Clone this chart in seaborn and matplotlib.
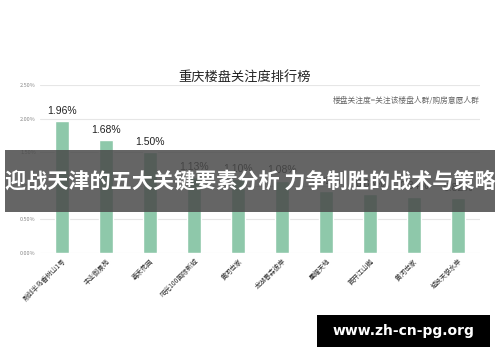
import numpy as np
import pandas as pd
import matplotlib.pyplot as plt
import matplotlib.patches as mpatches
import seaborn as sns

# 数据
loupan = ['融创半岛香树山1号', '丰业御景苑', '嘉禾花园', '阳光100国际新城', '黄河世家',
          '龙湖春森彼岸', '星耀天地', '首开江山樾', '黄河世家 ', '城投天悦水岸']
guanzhu = [1.96, 1.68, 1.50, 1.13, 1.10, 1.08, 0.92, 0.88, 0.84, 0.82]
yticks = [0.0, 0.5, 1.0, 1.5, 2.0, 2.5]

title = '重庆楼盘关注度排行榜'
note = '楼盘关注度=关注该楼盘人群/购房意愿人群'
banner = '迎战天津的五大关键要素分析 力争制胜的战术与策略'
site = 'www.zh-cn-pg.org'

sns.set_theme(style='white')
plt.rcParams['font.family'] = ['Noto Sans CJK SC', 'DejaVu Sans']

df = pd.DataFrame({'loupan': loupan, 'guanzhu': guanzhu})

fig = plt.figure(figsize=(5.0, 3.62), dpi=100)
ax = fig.add_axes([0.08, 0.301, 0.88, 0.464])

sns.barplot(data=df, x='loupan', y='guanzhu', color='#8ec8aa', saturation=1,
            width=0.32, ax=ax)

ax.set_xlim(-0.5, len(loupan) - 0.5)
ax.set_ylim(0, 2.502)
ax.set_yticks(yticks)
ax.set_yticklabels([f'{v:.2f}%' for v in yticks], fontsize=4, color='#888888')
ax.yaxis.grid(True, color='#e6e6e6', linewidth=0.8)
ax.set_axisbelow(True)
sns.despine(ax=ax, left=True, bottom=True)
ax.tick_params(axis='both', length=0, pad=3)
ax.set_xlabel('')
ax.set_ylabel('')
ax.set_xticks(range(len(loupan)))
ax.set_xticklabels(loupan, rotation=45, ha='right', rotation_mode='anchor',
                   fontsize=4.8, color='#333333')

for i, v in enumerate(guanzhu):
    ax.text(i, v + 0.08, f'{v:.2f}%', ha='center', va='bottom', fontsize=7.5,
            color='#222222', family=['Liberation Sans', 'DejaVu Sans'])

fig.text(0.49, 0.785, title, ha='center', va='center', fontsize=9.5, color='#222222')
fig.text(0.96, 0.721, note, ha='right', va='center', fontsize=5.6,
         color='#666666', style='italic')

# 遮挡横幅
fig.patches.append(mpatches.Rectangle((0.01, 0.413), 0.98, 0.172,
                                      transform=fig.transFigure,
                                      facecolor='#4a4a4a', alpha=0.85,
                                      edgecolor='none', zorder=5))
fig.text(0.5, 0.5, banner, ha='center', va='center', fontsize=15.2,
         color='white', weight='bold', zorder=6)

fig.patches.append(mpatches.Rectangle((0.634, 0.041), 0.346, 0.088,
                                      transform=fig.transFigure,
                                      facecolor='black', edgecolor='none', zorder=5))
fig.text(0.807, 0.085, site, ha='center', va='center', fontsize=10,
         color='white', weight='bold', zorder=6,
         family=['DejaVu Sans'])

fig.savefig('out.png', dpi=100)
